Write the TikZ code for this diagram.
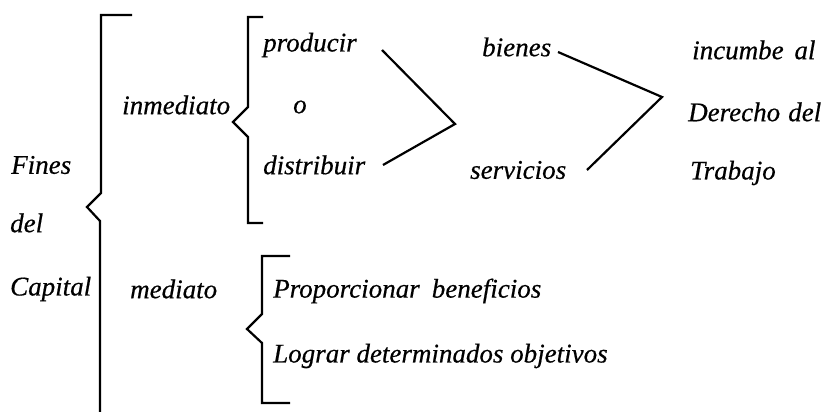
\documentclass[tikz,border=0pt]{standalone}
\usepackage{fontspec}
\setmainfont{Liberation Serif}
\newfontface\lblfont{Liberation Serif Italic}[FakeBold=0.5]
\begin{document}
\begin{tikzpicture}[x=1pt,y=-1pt,
  lbl/.style={anchor=west,inner sep=0pt,font=\fontsize{27}{32}\lblfont},
  brk/.style={line width=2.2pt,line join=miter},
  conn/.style={line width=2.2pt}]
\useasboundingbox (0,0) rectangle (830,412);
% left column
\node[lbl] (fines) at (11,165) {Fines};
\node[lbl] (del) at (10,223) {del};
\node[lbl] (capital) at (10,289) {Capital};
% second column
\node[lbl] (inmed) at (122,105) {inmediato};
\node[lbl] (med) at (130,289) {mediato};
% third column
\node[lbl] (prod) at (263,45) {producir};
\node[lbl] (o) at (293,107) {o};
\node[lbl] (dist) at (263,165) {distribuir};
\node[lbl] (prop) at (273,291) {Proporcionar\hspace{0.45em}beneficios};
\node[lbl] (lograr) at (273,356) {Lograr determinados objetivos};
% fourth column
\node[lbl] (bienes) at (482,47) {bienes};
\node[lbl] (serv) at (470,170) {servicios};
% fifth column
\node[lbl] (inc) at (692,50) {incumbe\hspace{0.4em}al};
\node[lbl] (der) at (688,112) {Derecho\hspace{0.3em}del};
\node[lbl] (trab) at (690,173) {Trabajo};
% brackets
\draw[brk] (132,15) -- (101,15) -- (101,193) -- (87,207) -- (100,221) -- (100,412);
\draw[brk] (263,17) -- (248,17) -- (248,107) -- (233,122) -- (248,137) -- (248,223) -- (263,223);
\draw[brk] (290,256) -- (262,256) -- (262,314) -- (247,329) -- (262,343) -- (262,403) -- (290,403);
% connectors
\coordinate (v1) at (455,124);
\coordinate (v2) at (662,97);
\coordinate (a1) at (382,50);
\coordinate (a2) at (383,165);
\coordinate (b1) at (558,52);
\coordinate (b2) at (587,170);
\draw[conn] (a1) -- (v1) -- (a2);
\draw[conn] (b1) -- (v2) -- (b2);
\end{tikzpicture}
\end{document}
